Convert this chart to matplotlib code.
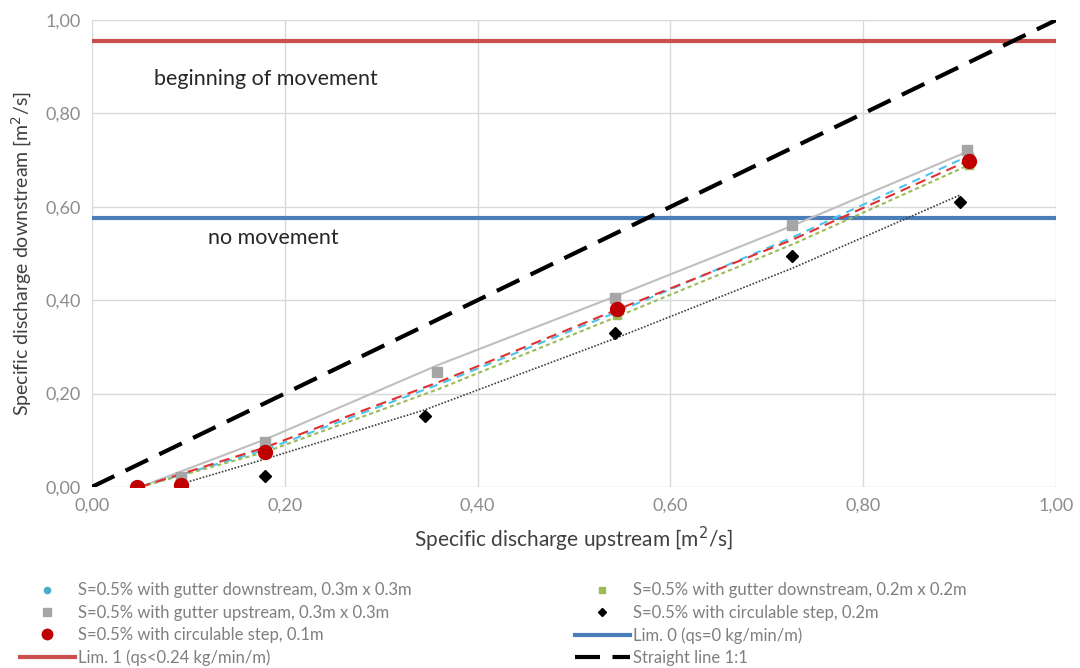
import matplotlib.pyplot as plt
import matplotlib.lines as mlines
from matplotlib.ticker import FuncFormatter

plt.rcParams['font.family'] = ['Lato', 'DejaVu Sans']

# measured points
x_cyan = [0.047, 0.093, 0.18, 0.545, 0.91]
y_cyan = [0.0, 0.005, 0.072, 0.375, 0.71]
x_green = [0.047, 0.093, 0.18, 0.545, 0.91]
y_green = [0.0, 0.003, 0.07, 0.368, 0.69]
x_gray = [0.047, 0.093, 0.18, 0.358, 0.543, 0.726, 0.907]
y_gray = [0.0, 0.021, 0.096, 0.246, 0.405, 0.561, 0.722]
x_black = [0.093, 0.18, 0.345, 0.543, 0.726, 0.90]
y_black = [0.003, 0.024, 0.152, 0.33, 0.495, 0.61]
x_red = [0.047, 0.093, 0.18, 0.545, 0.91]
y_red = [0.0, 0.005, 0.075, 0.381, 0.698]

# trend lines
x_trend = [0.05, 0.18, 0.36, 0.545, 0.727, 0.91]
t_gray = [0.0, 0.102, 0.262, 0.41, 0.56, 0.72]
t_red = [0.0, 0.085, 0.225, 0.38, 0.53, 0.70]
t_cyan = [0.0, 0.08, 0.22, 0.375, 0.535, 0.71]
t_green = [0.0, 0.075, 0.21, 0.365, 0.52, 0.69]
x_trend_black = [0.095, 0.18, 0.345, 0.545, 0.727, 0.90]
t_black = [0.008, 0.06, 0.165, 0.32, 0.469, 0.625]

lim0 = 0.576
lim1 = 0.955
line11 = [0.0, 1.0]

txt = '#7f7f7f'
fig = plt.figure(figsize=(10.8, 6.68), dpi=100)
ax = fig.add_axes([0.085, 0.271, 0.893, 0.699])

ax.axhline(lim1, color='#c9504d', lw=3)
ax.axhline(lim0, color='#4a7ebb', lw=3)
ax.plot(line11, line11, color='black', lw=3, dashes=(6, 3))

ax.plot(x_trend, t_gray, color='#bfbfbf', lw=1.5)
ax.plot(x_trend, t_cyan, color='#4bc5ef', lw=1.5, dashes=(4, 3))
ax.plot(x_trend, t_green, color='#9bbb59', lw=1.5, dashes=(2, 1.5))
ax.plot(x_trend, t_red, color='#e03030', lw=1.5, dashes=(5, 3))
ax.plot(x_trend_black, t_black, color='#404040', lw=1.2, dashes=(1, 1))

h_cyan, = ax.plot(x_cyan, y_cyan, 'o', color='#4bacc6', ms=6, ls='none')
h_green, = ax.plot(x_green, y_green, 's', color='#9bbb59', ms=6, ls='none')
h_gray, = ax.plot(x_gray, y_gray, 's', color='#a6a6a6', ms=7, ls='none')
h_black, = ax.plot(x_black, y_black, 'D', color='black', ms=6, ls='none')
h_red, = ax.plot(x_red, y_red, 'o', color='#c00000', ms=10, ls='none')

ax.text(0.065, 0.86, 'beginning of movement', fontsize=15.5, color='#262626')
ax.text(0.12, 0.52, 'no movement', fontsize=15.5, color='#262626')

ax.set_xlim(0, 1)
ax.set_ylim(0, 1)
ax.set_xticks([0, 0.2, 0.4, 0.6, 0.8, 1.0])
ax.set_yticks([0, 0.2, 0.4, 0.6, 0.8, 1.0])
fmt = FuncFormatter(lambda v, p: f'{v:.2f}'.replace('.', ','))
ax.xaxis.set_major_formatter(fmt)
ax.yaxis.set_major_formatter(fmt)
ax.tick_params(length=0, labelsize=13, colors='#8c8c8c', pad=8)
ax.grid(True, color='#d9d9d9', lw=1)
ax.set_axisbelow(True)
for s in ax.spines.values():
    s.set_visible(False)
ax.set_xlabel('Specific discharge upstream [m$^2$/s]', fontsize=15, color='#404040', labelpad=8)
ax.set_ylabel('Specific discharge downstream [m$^2$/s]', fontsize=14, color='#404040', labelpad=8)

h_lim0 = mlines.Line2D([], [], color='#4a7ebb', lw=3)
h_lim1 = mlines.Line2D([], [], color='#c9504d', lw=3)
h_11 = mlines.Line2D([], [], color='black', lw=3, dashes=(6, 3))

handles = [h_cyan, h_gray, h_red, h_lim1, h_green, h_black, h_lim0, h_11]
labels = ['S=0.5% with gutter downstream, 0.3m x 0.3m',
          'S=0.5% with gutter upstream, 0.3m x 0.3m',
          'S=0.5% with circulable step, 0.1m',
          'Lim. 1 (qs<0.24 kg/min/m)',
          'S=0.5% with gutter downstream, 0.2m x 0.2m',
          'S=0.5% with circulable step, 0.2m',
          'Lim. 0 (qs=0 kg/min/m)',
          'Straight line 1:1']
leg = fig.legend(handles, labels, ncol=2, loc='upper left', bbox_to_anchor=(0.012, 0.138),
                 frameon=False, fontsize=12, handlelength=3.3, handletextpad=0.2,
                 labelspacing=0.38, columnspacing=9.8, borderaxespad=0, markerscale=0.75)
for t in leg.get_texts():
    t.set_color(txt)

fig.savefig('out.png', dpi=100)
